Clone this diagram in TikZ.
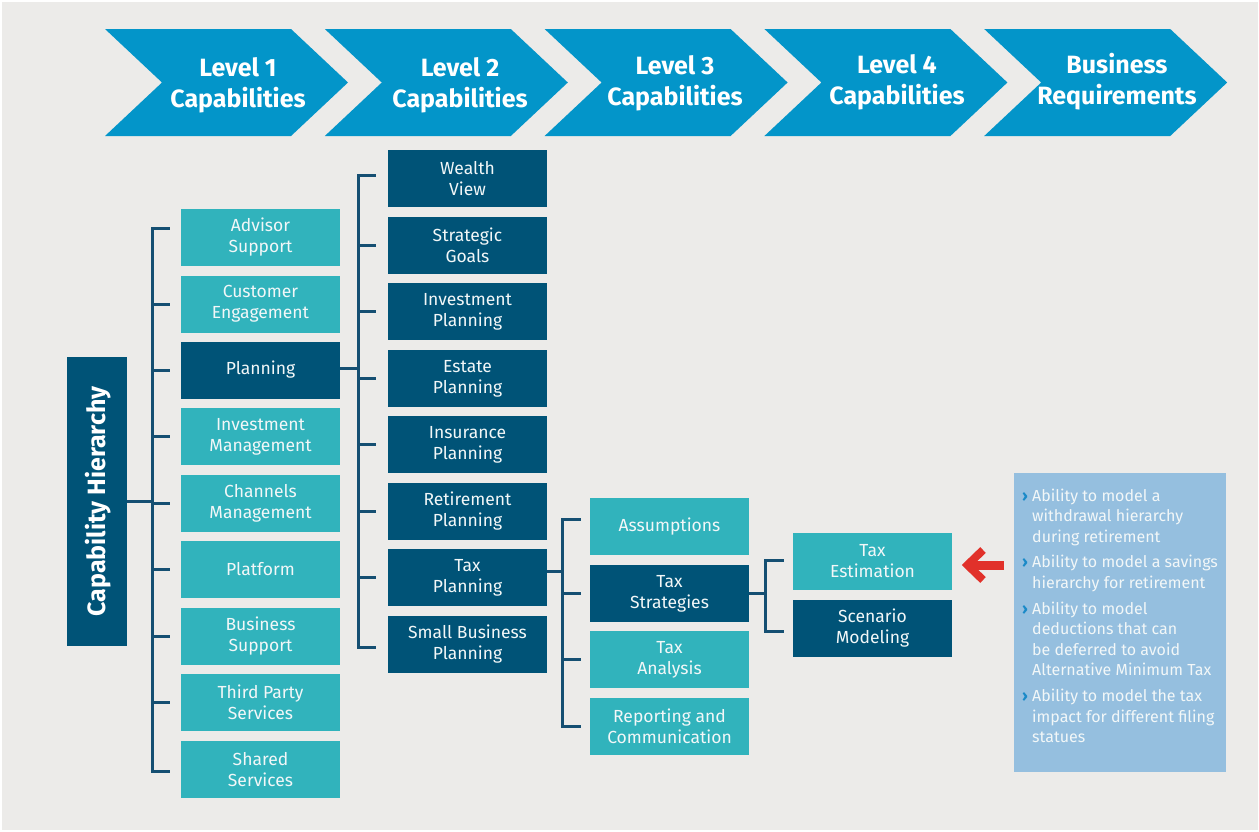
\documentclass[tikz,border=0pt]{standalone}
\usepackage{fontspec}
\setmainfont{Fira Sans}
\usetikzlibrary{calc}
\definecolor{bgc}{HTML}{ECEBE9}
\definecolor{chevc}{HTML}{0395C9}
\definecolor{tealc}{HTML}{31B3BC}
\definecolor{darkc}{HTML}{005377}
\definecolor{linec}{HTML}{154F72}
\definecolor{reqc}{HTML}{95BFDF}
\definecolor{redc}{HTML}{E1312A}
\definecolor{bulc}{HTML}{1A8AC8}
\definecolor{txtc}{HTML}{F2F7F8}
\newcommand{\bitem}{\makebox[10pt][l]{\textcolor{bulc}{\textbf{›}}}}
\newcommand{\bcont}{\hspace*{10pt}}
\begin{document}
\begin{tikzpicture}[x=1pt,y=-1pt,
  chevshape/.style={fill=chevc},
  headtxt/.style={text=white,align=center,font=\bfseries\fontsize{25}{31}\selectfont,inner sep=0pt},
  capbox/.style={minimum width=159pt,minimum height=57pt,inner sep=0pt,align=center,text=txtc,font=\fontsize{17.5}{21}\selectfont},
  lite/.style={capbox,fill=tealc},
  deep/.style={capbox,fill=darkc},
  conn/.style={draw=linec,line width=3pt,line join=miter},
  reqtext/.style={text=txtc,align=left,inner sep=0pt,font=\fontsize{16}{20.6}\selectfont}
]
\fill[white] (0,0) rectangle (1259,831);
\fill[bgc] (1.5,1.5) rectangle (1257.5,829.5);
\useasboundingbox (0,0) rectangle (1259,831);

% chevrons
\foreach \L in {105,324.8,544.6,764.4,984.2}{
  \fill[chevshape] (\L,29) -- (\L+186,29) -- (\L+243,82.5) -- (\L+186,136) -- (\L,136) -- (\L+57,82.5) -- cycle;
}
\node[headtxt] (h1) at (238,85) {Level 1\\Capabilities};
\node[headtxt] (h2) at (460,85) {Level 2\\Capabilities};
\node[headtxt] (h3) at (675,83.5) {Level 3\\Capabilities};
\node[headtxt] (h4) at (897,82) {Level 4\\Capabilities};
\node[headtxt] (h5) at (1117,81.5) {Business\\Requirements};

% capability hierarchy
\node[fill=darkc,minimum width=60pt,minimum height=289pt,inner sep=0pt] (cap) at (97,501.5) {};
\node[rotate=90,text=white,font=\bfseries\fontsize{25}{28}\selectfont,inner sep=0pt] (capt) at ([xshift=1pt]cap.center) {Capability Hierarchy};

% level 1
\node[lite] (adv) at (260.5,237.5) {Advisor\\Support};
\node[lite] (cus) at (260.5,304) {Customer\\Engagement};
\node[deep] (pla) at (260.5,370) {Planning};
\node[lite] (inv) at (260.5,436.5) {Investment\\Management};
\node[lite] (cha) at (260.5,503.5) {Channels\\Management};
\node[lite] (plt) at (260.5,569.5) {Platform};
\node[lite] (bus) at (260.5,636.5) {Business\\Support};
\node[lite] (thi) at (260.5,702.5) {Third Party\\Services};
\node[lite] (shs) at (260.5,769.5) {Shared\\Services};

% level 2
\node[deep] (wea) at (467.5,178.5) {Wealth\\View};
\node[deep] (stg) at (467.5,245.5) {Strategic\\Goals};
\node[deep] (ivp) at (467.5,311.5) {Investment\\Planning};
\node[deep] (est) at (467.5,378.5) {Estate\\Planning};
\node[deep] (ins) at (467.5,444.5) {Insurance\\Planning};
\node[deep] (ret) at (467.5,511.5) {Retirement\\Planning};
\node[deep] (tax) at (467.5,577.5) {Tax\\Planning};
\node[deep] (sbp) at (467.5,644.5) {Small Business\\Planning};

% level 3
\node[lite] (ass) at (669.5,526.5) {Assumptions};
\node[deep] (tst) at (669.5,593.5) {Tax\\Strategies};
\node[lite] (tan) at (669.5,659.5) {Tax\\Analysis};
\node[lite] (rep) at (669.5,726.5) {Reporting and\\Communication};

% level 4
\node[lite] (tes) at (872.5,561.5) {Tax\\Estimation};
\node[deep] (scm) at (872.5,628.5) {Scenario\\Modeling};

% business requirements
\node[fill=reqc,minimum width=212pt,minimum height=299pt,inner sep=0pt] (req) at (1120,622.5) {};
\node[reqtext,anchor=north west] (reqt) at (1022,488.5) {%
\bitem Ability to model a\\
\bcont withdrawal hierarchy\\
\bcont during retirement\\[5pt]
\bitem Ability to model a savings\\
\bcont hierarchy for retirement\\[5pt]
\bitem Ability to model\\
\bcont deductions that can\\
\bcont be deferred to avoid\\
\bcont Alternative Minimum Tax\\[5pt]
\bitem Ability to model the tax\\
\bcont impact for different filing\\
\bcont statues};

% connectors level 1
\coordinate (v1) at (153,0);
\draw[conn] ([xshift=-11pt,yshift=9.5pt]adv.west) -- ([xshift=-28pt,yshift=9.5pt]adv.west) -- ([xshift=-28pt,yshift=-1.5pt]shs.west) -- ([xshift=-11pt,yshift=-1.5pt]shs.west);
\foreach \n in {cus,pla,inv,cha,plt,bus,thi}{\draw[conn] ([xshift=-11pt]\n.west) -- ([xshift=-28pt]\n.west);}
\draw[conn] (cap.east) -- (cap.east -| v1);

% connectors level 2
\coordinate (v2) at (359,0);
\draw[conn] ([xshift=-12pt,yshift=3.5pt]wea.west) -- ([xshift=-29pt,yshift=3.5pt]wea.west) -- ([xshift=-29pt,yshift=-2.5pt]sbp.west) -- ([xshift=-12pt,yshift=-2.5pt]sbp.west);
\foreach \n in {stg,ivp,est,ins,ret,tax}{\draw[conn] ([xshift=-12pt]\n.west) -- ([xshift=-29pt]\n.west);}
\draw[conn] ([yshift=1.3pt]pla.east) -- ([yshift=1.3pt]pla.east -| v2);

% connectors level 3
\coordinate (v3) at (563,0);
\draw[conn] ([xshift=-9pt,yshift=7.5pt]ass.west) -- ([xshift=-27pt,yshift=7.5pt]ass.west) -- ([xshift=-27pt]rep.west) -- ([xshift=-9pt]rep.west);
\foreach \n in {tst,tan}{\draw[conn] ([xshift=-9pt]\n.west) -- ([xshift=-27pt]\n.west);}
\draw[conn] ([yshift=6pt]tax.east) -- ([yshift=6pt]tax.east -| v3);

% connectors level 4
\coordinate (v4) at (766,0);
\draw[conn] ([xshift=-9pt,yshift=1.5pt]tes.west) -- ([xshift=-27pt,yshift=1.5pt]tes.west) -- ([xshift=-27pt,yshift=-3pt]scm.west) -- ([xshift=-9pt,yshift=-3pt]scm.west);
\draw[conn] (tst.east) -- (tst.east -| v4);

% red arrow
\coordinate (ra) at (1004,565);
\coordinate (rb) at (973,565);
\draw[redc,line width=9pt] (ra) -- (rb);
\draw[redc,line width=8pt,line join=miter,miter limit=4] (983,550) -- (967.5,565) -- (983,580);
\end{tikzpicture}
\end{document}
